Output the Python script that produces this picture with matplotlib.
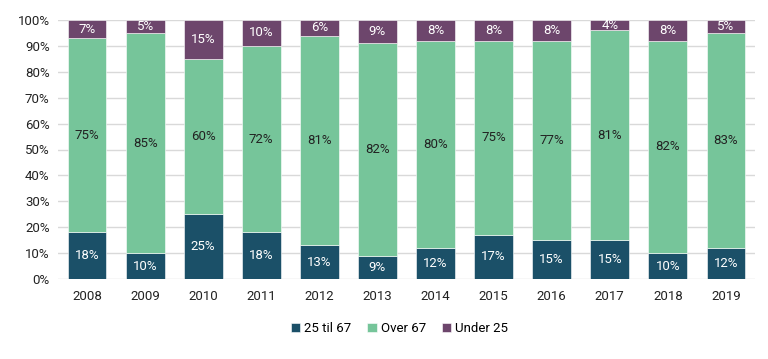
import numpy as np
import matplotlib.pyplot as plt

plt.rcParams['font.family'] = ['Roboto', 'DejaVu Sans']

years = ["2008", "2009", "2010", "2011", "2012", "2013",
         "2014", "2015", "2016", "2017", "2018", "2019"]
mid_age = [18, 10, 25, 18, 13, 9, 12, 17, 15, 15, 10, 12]
over_67 = [75, 85, 60, 72, 81, 82, 80, 75, 77, 81, 82, 83]
under_25 = [7, 5, 15, 10, 6, 9, 8, 8, 8, 4, 8, 5]
series_names = ["25 til 67", "Over 67", "Under 25"]
colors = ["#1b5068", "#76c59a", "#6d466c"]
text_colors = ["white", "#222222", "white"]

fig = plt.figure(figsize=(7.68, 3.59), dpi=100)
ax = fig.add_axes([58 / 768, 1 - 279 / 359, 697 / 768, 259 / 359])

x = np.arange(len(years))
bottom = np.zeros(len(years))
for vals, name, col, tcol in zip([mid_age, over_67, under_25], series_names, colors, text_colors):
    vals = np.array(vals, dtype=float)
    ax.bar(x, vals, 0.67, bottom=bottom, color=col, label=name,
           edgecolor="white", linewidth=0.4, zorder=3)
    for xi, b, v in zip(x, bottom, vals):
        ax.text(xi, b + v / 2, f"{int(v)}%", ha="center", va="center",
                color=tcol, fontsize=9.5, zorder=4)
    bottom += vals

ax.set_xlim(-0.5, len(years) - 0.5)
ax.set_ylim(0, 100)
ax.set_yticks(np.arange(0, 101, 10))
ax.set_yticklabels([f"{v}%" for v in range(0, 101, 10)])
ax.set_xticks(x)
ax.set_xticklabels(years)
ax.tick_params(axis="both", length=0, labelsize=9.5, colors="#222222")
ax.tick_params(axis="x", pad=8)
ax.tick_params(axis="y", pad=6)
ax.grid(axis="y", color="#d9d9d9", linewidth=1, zorder=0)
for sp in ax.spines.values():
    sp.set_visible(False)

ax.legend(loc="upper center", bbox_to_anchor=(0.49, -0.12), ncol=3, frameon=False,
          fontsize=9.5, handlelength=0.7, handleheight=0.7, handletextpad=0.3,
          columnspacing=1.2)

fig.savefig("out.png", dpi=100)
